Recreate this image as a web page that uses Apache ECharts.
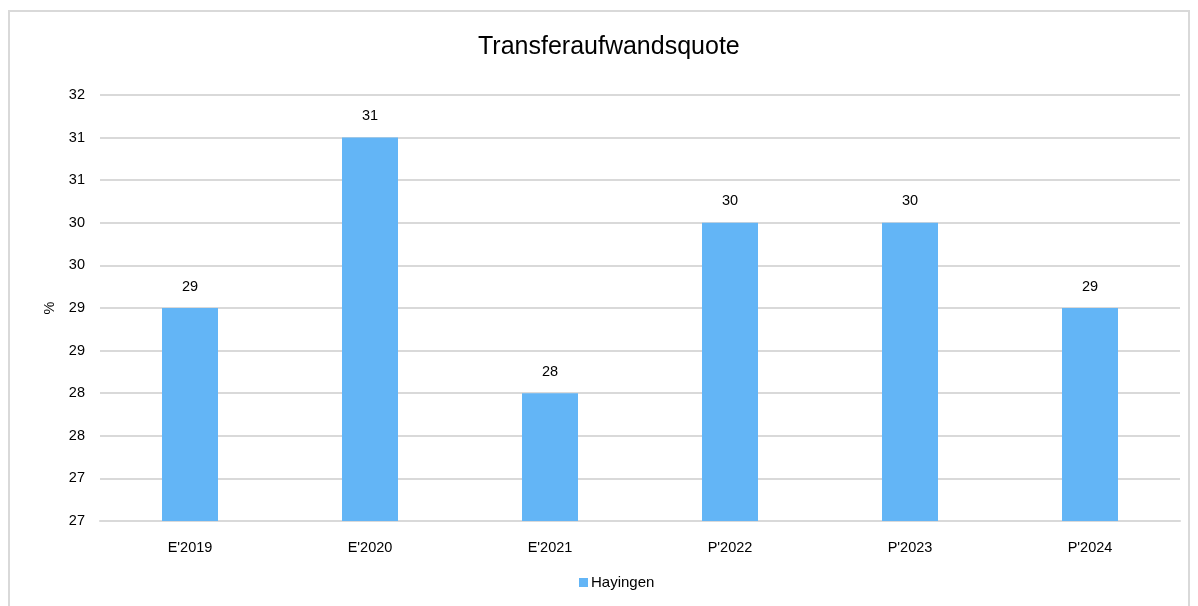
<!DOCTYPE html>
<html><head><meta charset="utf-8">
<script src="https://cdn.jsdelivr.net/npm/echarts@6/dist/echarts.min.js"></script>
<style>
html,body{margin:0;padding:0;background:#fff;}
#frame{position:absolute;left:8px;top:10px;width:1182px;height:610px;border:2px solid #d9d9d9;box-sizing:border-box;}
#chart{position:absolute;left:0;top:0;width:1198px;height:606px;}
</style></head>
<body>
<div id="frame"></div>
<div id="chart"></div>
<script>
const categories = ["E'2019","E'2020","E'2021","P'2022","P'2023","P'2024"];
const seriesName = "Hayingen";
const values = [29.5, 31.5, 28.5, 30.5, 30.5, 29.5];
const yMin = 27, yMax = 32, yStep = 0.5;
const titleText = 'Transferaufwandsquote';
const fmt = v => String(Math.floor(v));

const chart = echarts.init(document.getElementById('chart'), null, {renderer:'canvas'});
const font = "'Liberation Sans', Arial, sans-serif";
chart.setOption({
  animation:false,
  textStyle:{fontFamily:font},
  graphic:[{type:'text', left:478, top:35, silent:true,
    style:{text:titleText, x:0, y:0, fill:'#000', font:"25px 'Liberation Sans', Arial, sans-serif"}}],
  grid:{left:100, right:18, top:95, bottom:85},
  legend:{bottom:11, left:574, itemWidth:9, itemHeight:9, itemGap:3,
    icon:'rect', textStyle:{fontFamily:font, fontSize:15, color:'#000', padding:[0,0,0,-2]}, data:[seriesName]},
  xAxis:{type:'category', data:categories,
    axisLine:{lineStyle:{color:'#d9d9d9', width:2}}, axisTick:{show:false},
    axisLabel:{color:'#000', fontSize:14.5, fontFamily:font, margin:19}},
  yAxis:{type:'value', min:yMin, max:yMax, interval:yStep, name:'%', nameLocation:'middle', nameGap:43,
    nameRotate:90, nameTextStyle:{color:'#000', fontSize:14.5, fontFamily:font},
    axisLine:{show:false}, axisTick:{show:false},
    axisLabel:{color:'#000', fontSize:14.5, fontFamily:font, margin:15, formatter:fmt},
    splitLine:{lineStyle:{color:'#d9d9d9', width:2}}},
  series:[{name:seriesName, type:'bar', data:values, barWidth:56,
    itemStyle:{color:'#63b5f6'},
    label:{show:true, position:'top', distance:14, color:'#000', fontSize:14.5, fontFamily:font,
      formatter:p=>fmt(p.value)}}]
});
</script>
</body></html>
